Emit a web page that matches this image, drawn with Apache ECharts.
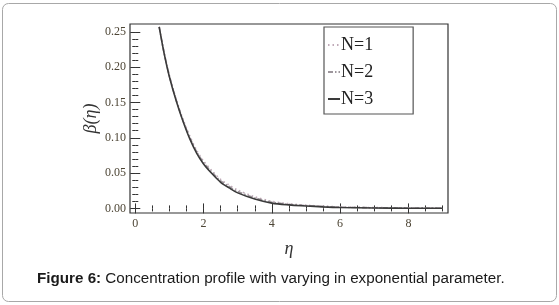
<!DOCTYPE html>
<html>
<head>
<meta charset="utf-8">
<script src="https://cdn.jsdelivr.net/npm/echarts@6/dist/echarts.min.js"></script>
<style>
  html, body { margin: 0; padding: 0; background: #fff; }
  #chart { width: 559px; height: 305px; }
</style>
</head>
<body>
<div id="chart"></div>
<script>
// eta values along the curves
var eta = [0.7, 0.85, 1.0, 1.2, 1.4, 1.6, 1.8, 2.0, 2.25, 2.5, 2.75, 3.0, 3.5, 4.0, 4.5, 5.0, 5.5, 6.0, 7.0, 8.0, 9.0];
var betaN1 = [0.257, 0.219, 0.188, 0.154, 0.126, 0.102, 0.082, 0.067, 0.053, 0.041, 0.033, 0.026, 0.0165, 0.0100, 0.0066, 0.0046, 0.0032, 0.0022, 0.0012, 0.0007, 0.0004];
var betaN2 = [0.257, 0.219, 0.187, 0.153, 0.124, 0.100, 0.080, 0.065, 0.051, 0.039, 0.031, 0.024, 0.0150, 0.0088, 0.0058, 0.0040, 0.0027, 0.0018, 0.0009, 0.0005, 0.0003];
var betaN3 = [0.257, 0.218, 0.186, 0.152, 0.123, 0.098, 0.078, 0.063, 0.049, 0.037, 0.029, 0.022, 0.0133, 0.0075, 0.0050, 0.0035, 0.0022, 0.0013, 0.0006, 0.0003, 0.0002];

var xTicks = [0, 2, 4, 6, 8];
var xMinorTicks = [0, 0.5, 1, 1.5, 2, 2.5, 3, 3.5, 4, 4.5, 5, 5.5, 6, 6.5, 7, 7.5, 8, 8.5, 9];
var yTicks = [0, 0.05, 0.10, 0.15, 0.20, 0.25];
var yMinorTicks = [0, 0.01, 0.02, 0.03, 0.04, 0.05, 0.06, 0.07, 0.08, 0.09, 0.10, 0.11, 0.12, 0.13, 0.14, 0.15,
    0.16, 0.17, 0.18, 0.19, 0.20, 0.21, 0.22, 0.23, 0.24, 0.25];

var seriesNames = ['N=1', 'N=2', 'N=3'];
var captionBold = 'Figure 6:';
var captionText = ' Concentration profile with varying in exponential parameter.';

function pairs(xs, ys) {
    var out = [];
    for (var i = 0; i < xs.length; i++) {
        out.push([xs[i], ys[i]]);
    }
    return out;
}

var labelStyle = {
    fontFamily: 'Liberation Serif',
    fontSize: 12,
    color: '#4d4535'
};

function xAxisDef(pos, ticks, len, withLabel) {
    return {
        type: 'value',
        position: pos,
        min: -0.155,
        max: 9.16,
        axisLine: { show: false },
        splitLine: { show: false },
        axisTick: {
            show: true,
            inside: true,
            length: len,
            customValues: ticks,
            lineStyle: { color: '#333', width: 1 }
        },
        axisLabel: withLabel ? {
            show: true,
            margin: 5,
            customValues: xTicks,
            fontFamily: labelStyle.fontFamily,
            fontSize: labelStyle.fontSize,
            color: labelStyle.color
        } : { show: false }
    };
}

function yAxisDef(pos, ticks, len, withLabel) {
    return {
        type: 'value',
        position: pos,
        min: -0.0065,
        max: 0.261,
        axisLine: { show: false },
        splitLine: { show: false },
        axisTick: {
            show: true,
            inside: true,
            length: len,
            customValues: ticks,
            lineStyle: { color: '#333', width: 1 }
        },
        axisLabel: withLabel ? {
            show: true,
            margin: 4,
            customValues: yTicks,
            formatter: function (v) { return v.toFixed(2); },
            fontFamily: labelStyle.fontFamily,
            fontSize: labelStyle.fontSize,
            color: labelStyle.color
        } : { show: false }
    };
}

var xMain = xAxisDef('bottom', xTicks, 5, true);
xMain.name = 'η';
xMain.nameLocation = 'middle';
xMain.nameGap = 27;
xMain.nameTextStyle = { fontFamily: 'Liberation Serif', fontStyle: 'italic', fontSize: 18, color: '#333' };

var yMain = yAxisDef('left', yTicks, 5, true);
yMain.name = 'β(η)';
yMain.nameLocation = 'middle';
yMain.nameRotate = 90;
yMain.nameGap = 30;
yMain.nameMoveOverlap = false;
yMain.nameTextStyle = { fontFamily: 'Liberation Serif', fontStyle: 'italic', fontSize: 18, color: '#333' };

var option = {
    animation: false,
    backgroundColor: '#fff',
    grid: {
        left: 130,
        right: 111,
        top: 24,
        bottom: 92,
        show: true,
        borderColor: '#333',
        borderWidth: 1.2,
        backgroundColor: 'transparent'
    },
    xAxis: [
        xMain,
        xAxisDef('bottom', xMinorTicks, 3, false),
        xAxisDef('top', xTicks, 5, false),
        xAxisDef('top', xMinorTicks, 3, false)
    ],
    yAxis: [
        yMain,
        yAxisDef('left', yMinorTicks, 3, false),
        yAxisDef('right', yTicks, 5, false),
        yAxisDef('right', yMinorTicks, 3, false)
    ],
    legend: {
        orient: 'vertical',
        left: 324,
        top: 27,
        padding: [9, 40, 6, 3],
        itemGap: 9,
        itemWidth: 12,
        itemHeight: 17,
        borderColor: '#555',
        borderWidth: 1.2,
        backgroundColor: '#fff',
        data: seriesNames,
        itemStyle: { opacity: 0, borderWidth: 0 },
        textStyle: {
            fontFamily: 'Liberation Serif',
            fontSize: 18,
            color: '#222',
            padding: [0, 0, 0, -4]
        }
    },
    title: {
        left: 37,
        top: 271,
        padding: 0,
        text: '{b|' + captionBold + '}{r|' + captionText + '}',
        textStyle: {
            fontWeight: 'normal',
            rich: {
                b: { fontFamily: 'Liberation Sans', fontWeight: 'bold', fontSize: 15.2, color: '#1a1a1a' },
                r: { fontFamily: 'Liberation Sans', fontWeight: 'normal', fontSize: 15.2, color: '#1a1a1a' }
            }
        }
    },
    graphic: [{
        type: 'rect',
        shape: { x: 2.5, y: 3.5, width: 554, height: 298, r: 6 },
        style: { fill: 'none', stroke: '#a8a8a8', lineWidth: 1 },
        silent: true,
        z: -1
    }],
    series: [
        {
            name: seriesNames[0],
            type: 'line',
            smooth: 0.3,
            symbol: 'none',
            data: pairs(eta, betaN1),
            lineStyle: { color: '#c0aab8', width: 1.6, type: [1.5, 3] },
            itemStyle: { color: '#c0aab8' },
            z: 3
        },
        {
            name: seriesNames[1],
            type: 'line',
            smooth: 0.3,
            symbol: 'none',
            data: pairs(eta, betaN2),
            lineStyle: { color: '#9d969c', width: 1.6, type: [5, 2, 1.5, 2] },
            itemStyle: { color: '#9d969c' },
            z: 3
        },
        {
            name: seriesNames[2],
            type: 'line',
            smooth: 0.3,
            symbol: 'none',
            data: pairs(eta, betaN3),
            lineStyle: { color: '#3a3a3a', width: 1.6 },
            itemStyle: { color: '#3a3a3a' },
            z: 4
        }
    ]
};

var chart = echarts.init(document.getElementById('chart'), null, { renderer: 'canvas' });
chart.setOption(option);
</script>
</body>
</html>
